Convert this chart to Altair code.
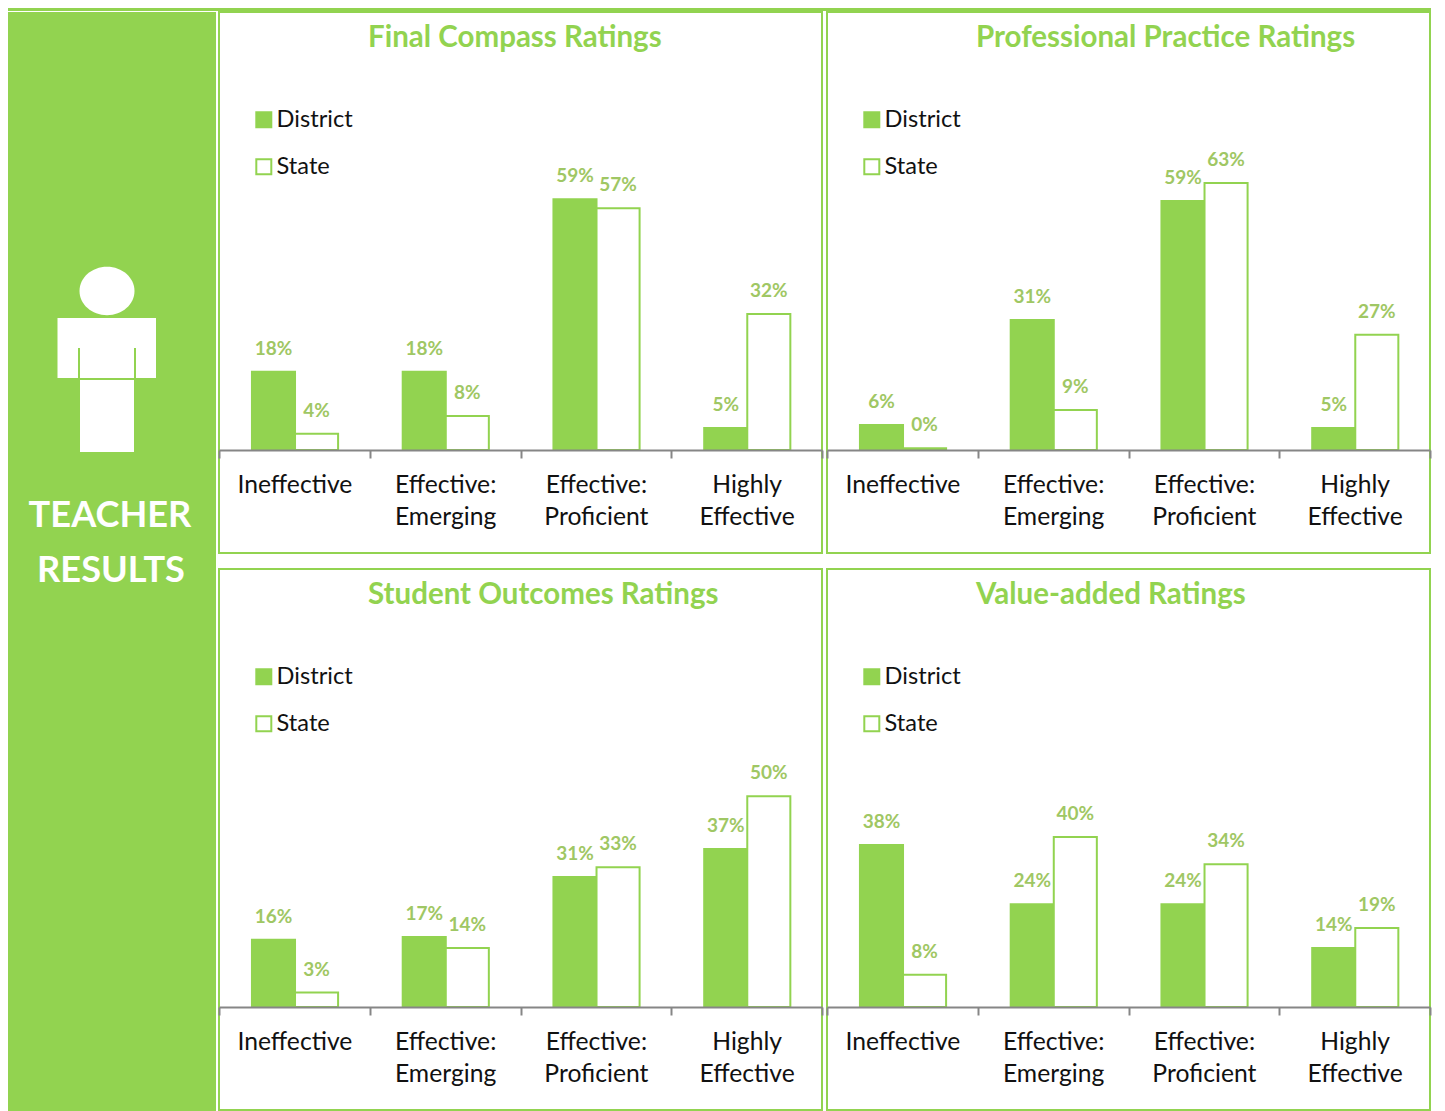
import altair as alt
import pandas as pd

GREEN = "#92D350"
LABEL = "#9FC764"
GREY = "#868686"
FONT = "Lato"

categories = ["Ineffective", "Effective:\nEmerging", "Effective:\nProficient", "Highly\nEffective"]
series = ["District", "State"]

titles = ["Final Compass Ratings", "Professional Practice Ratings",
          "Student Outcomes Ratings", "Value-added Ratings"]

final_district = [0.184, 0.184, 0.590, 0.052]
final_state = [0.038, 0.080, 0.569, 0.320]
practice_district = [0.059, 0.306, 0.586, 0.052]
practice_state = [0.004, 0.094, 0.628, 0.271]
outcomes_district = [0.158, 0.165, 0.306, 0.372]
outcomes_state = [0.034, 0.139, 0.329, 0.496]
value_district = [0.381, 0.242, 0.242, 0.139]
value_state = [0.076, 0.400, 0.336, 0.186]

PW, PH, BASE = 603, 541, 438
DOMAIN_MAX = BASE / 425


def panel(title, district, state):
    df = pd.DataFrame({
        "category": categories * 2,
        "series": [series[0]] * 4 + [series[1]] * 4,
        "value": district + state,
    })
    x = alt.X("category:N", sort=categories, title=None,
              scale=alt.Scale(paddingInner=0, paddingOuter=0),
              axis=alt.Axis(offset=-(PH - BASE), tickBand="extent", labelAngle=0,
                            labelExpr="split(datum.label, '\\n')", labelLineHeight=32,
                            labelFont=FONT, labelFontSize=24.7, labelColor="#111111",
                            labelPadding=14.5, labelLimit=200, tickSize=8, tickWidth=2,
                            tickColor=GREY, domainColor=GREY, domainWidth=2, grid=False,
                            zindex=1))
    xo = alt.XOffset("series:N", sort=series,
                     scale=alt.Scale(paddingOuter=0.75, paddingInner=0, align=0.51))
    y = alt.Y("value:Q", axis=None, scale=alt.Scale(domain=[0, DOMAIN_MAX], range=[BASE, 0]))
    bars = alt.Chart(df).mark_bar(strokeWidth=2, strokeJoin="miter").encode(
        x=x, xOffset=xo, y=y,
        fill=alt.Fill("series:N", sort=series, scale=alt.Scale(domain=series, range=[GREEN, "#FFFFFF"]),
                      legend=alt.Legend(title=None, orient="none", legendX=33, legendY=96, rowPadding=22,
                                        symbolType="square", symbolSize=225, symbolStrokeWidth=2,
                                        labelFont=FONT, labelFontSize=23.6, labelColor="#111111",
                                        labelOffset=1)),
        stroke=alt.Stroke("series:N", sort=series, scale=alt.Scale(domain=series, range=[GREEN, GREEN])),
    )
    labels = alt.Chart(df).mark_text(font=FONT, fontWeight="bold", fontSize=19, color=LABEL,
                                     baseline="middle", dy=-23).encode(
        x=x, xOffset=xo, y=y, text=alt.Text("value:Q", format=".0%"),
    )
    head = alt.Chart(pd.DataFrame({"title": [title]})).mark_text(
        font=FONT, fontWeight="bold", fontSize=29.5, color=GREEN, align="left", baseline="middle",
    ).encode(x=alt.value(149), y=alt.value(26), text="title:N")
    return alt.layer(bars, labels, head).properties(
        width=PW, height=PH,
        view=alt.ViewConfig(fill="#FFFFFF", stroke=GREEN, strokeWidth=2),
    )


one = pd.DataFrame({"a": [0]})


def box(x0, x1, y0, y1, color="#FFFFFF"):
    return alt.Chart(one).mark_rect(color=color).encode(
        x=alt.value(x0), x2=alt.value(x1), y=alt.value(y0), y2=alt.value(y1))


HEAD_PATH = "M-1,0A1,0.88 0 1,0 1,0A1,0.88 0 1,0 -1,0Z"
icon_head = alt.Chart(one).mark_point(shape=HEAD_PATH, size=3025, filled=True, color="#FFFFFF", opacity=1).encode(
    x=alt.value(99), y=alt.value(279))
band_text = [
    alt.Chart(pd.DataFrame({"t": [t]})).mark_text(font=FONT, fontWeight="bold", fontSize=36.2, color="#FFFFFF",
                                                  baseline="middle", align="center").encode(
        x=alt.value(x), y=alt.value(y), text="t:N")
    for t, x, y in [("TEACHER", 102, 504), ("RESULTS", 103, 559)]
]
band = alt.layer(
    icon_head,
    box(49.5, 148, 306, 366),
    box(72, 126, 368, 440),
    box(70, 72, 336, 368, GREEN),
    box(126, 128, 336, 368, GREEN),
    box(70, 128, 366, 368, GREEN),
    *band_text,
).properties(width=208, height=1099, view=alt.ViewConfig(fill=GREEN, stroke=None))

strip = alt.Chart(one).mark_rect(opacity=0).encode(x=alt.value(0), y=alt.value(0)).properties(
    width=1423, height=3, view=alt.ViewConfig(fill=GREEN, stroke=None))

INDEP = {"fill": "independent", "stroke": "independent"}
top_row = alt.hconcat(panel(titles[0], final_district, final_state),
                      panel(titles[1], practice_district, practice_state), spacing=1).resolve_legend(**INDEP)
bottom_row = alt.hconcat(panel(titles[2], outcomes_district, outcomes_state),
                         panel(titles[3], value_district, value_state), spacing=1).resolve_legend(**INDEP)
grid = alt.vconcat(top_row, bottom_row, spacing=14).resolve_legend(**INDEP)
body = alt.hconcat(band, grid, spacing=1).resolve_legend(**INDEP)
chart = alt.vconcat(strip, body, spacing=0).resolve_legend(**INDEP).properties(
    padding=0, background="#FFFFFF",
)
chart.save("out.html", embed_options={"renderer": "svg", "actions": False})
